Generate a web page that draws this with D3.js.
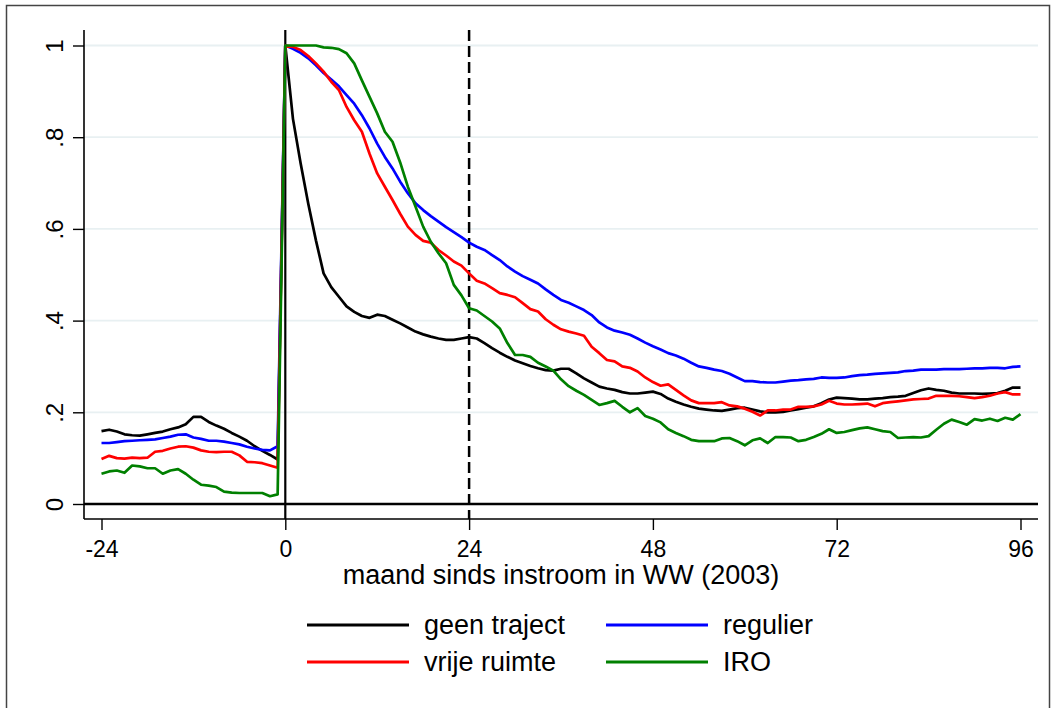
<!DOCTYPE html>
<html>
<head>
<meta charset="utf-8">
<script src="https://cdnjs.cloudflare.com/ajax/libs/d3/7.8.5/d3.min.js"></script>
<style>
  body { margin: 0; background: #fff; }
  svg text { font-family: Arial, "Liberation Sans", sans-serif; fill: #000; }
</style>
</head>
<body>
<svg id="chart" width="1056" height="708"></svg>
<script>
// Months since inflow, -24 .. 96
var months = d3.range(-24, 97);

var xTicks = [-24, 0, 24, 48, 72, 96];
var yTicks = [0, 0.2, 0.4, 0.6, 0.8, 1];
var yTickLabels = ["0", ".2", ".4", ".6", ".8", "1"];

var seriesNames = ["geen traject", "regulier", "vrije ruimte", "IRO"];

var geenTraject = [
  0.159,0.162,0.158,0.152,0.150,0.149,0.152,0.155,0.158,0.163,0.167,0.174,0.190,0.190,0.179,0.171,0.164,0.155,0.147,0.138,0.126,0.116,0.107,0.097,
  1.0,0.84,0.743,0.655,0.575,0.503,0.473,0.452,0.431,0.419,0.41,0.406,0.413,0.41,0.402,0.394,
  0.385,0.376,0.37,0.365,0.361,0.358,0.358,0.361,0.364,0.361,0.351,
  0.34,0.33,0.321,0.313,0.307,0.301,0.296,0.292,0.291,0.295,0.295,0.285,0.274,0.265,0.256,0.252,0.249,0.244,0.241,0.241,0.243,0.245,0.24,
  0.23,0.223,0.217,0.212,0.208,0.206,0.204,0.203,0.206,0.209,0.21,0.206,0.202,0.2,0.2,0.201,0.204,0.207,0.21,0.213,0.22,0.228,0.232,
  0.231,0.23,0.228,0.228,0.23,0.231,0.233,0.234,0.236,0.242,0.248,0.252,0.249,0.247,0.243,0.241,0.241,0.241,0.24,0.241,0.242,0.247,0.254,0.254
];

var regulier = [
  0.133,0.133,0.135,0.137,0.138,0.139,0.140,0.141,0.144,0.147,0.151,0.152,0.145,0.142,0.138,0.138,0.136,0.133,0.130,0.125,0.121,0.118,0.117,0.126,
  1.0,0.993,0.984,0.972,0.957,0.94,0.926,0.911,0.892,0.873,0.848,0.819,0.786,0.757,0.732,0.703,
  0.678,0.656,0.641,0.628,0.616,0.604,0.593,0.582,0.57,0.561,0.554,
  0.543,0.532,0.518,0.507,0.497,0.489,0.481,0.468,0.456,0.445,0.439,0.431,0.423,0.412,0.396,0.385,0.378,0.374,0.369,0.361,0.352,0.344,0.337,
  0.329,0.324,0.317,0.308,0.3,0.297,0.293,0.29,0.284,0.276,0.268,0.268,0.266,0.265,0.265,0.267,0.269,0.27,0.272,0.273,0.276,0.275,0.275,
  0.276,0.279,0.281,0.282,0.284,0.285,0.286,0.287,0.29,0.291,0.293,0.293,0.293,0.294,0.294,0.294,0.295,0.296,0.296,0.297,0.297,0.296,0.299,0.3
];

var vrijeRuimte = [
  0.098,0.105,0.100,0.099,0.101,0.100,0.101,0.114,0.116,0.121,0.125,0.126,0.123,0.117,0.114,0.113,0.114,0.114,0.106,0.092,0.091,0.089,0.084,0.079,
  1.0,0.997,0.99,0.977,0.961,0.943,0.921,0.903,0.866,0.837,0.812,0.764,0.721,0.692,0.663,0.633,
  0.605,0.587,0.574,0.57,0.554,0.542,0.529,0.52,0.503,0.487,0.481,
  0.471,0.46,0.456,0.451,0.438,0.425,0.42,0.403,0.391,0.381,0.376,0.372,0.367,0.343,0.329,0.314,0.311,0.3,0.297,0.289,0.276,0.266,0.258,
  0.261,0.249,0.237,0.226,0.22,0.22,0.22,0.222,0.215,0.213,0.208,0.201,0.193,0.204,0.204,0.206,0.206,0.212,0.212,0.213,0.217,0.225,0.219,
  0.217,0.217,0.218,0.219,0.213,0.22,0.222,0.224,0.226,0.228,0.229,0.23,0.236,0.236,0.236,0.235,0.233,0.231,0.233,0.236,0.241,0.244,0.239,0.239
];

var iro = [
  0.066,0.071,0.073,0.068,0.084,0.082,0.078,0.078,0.066,0.073,0.076,0.066,0.053,0.042,0.040,0.037,0.027,0.025,0.024,0.024,0.024,0.024,0.017,0.021,
  1.0,1.0,1.0,1.0,1.0,0.996,0.995,0.992,0.983,0.961,0.924,0.888,0.852,0.812,0.79,0.745,
  0.692,0.649,0.605,0.572,0.547,0.525,0.478,0.455,0.427,0.422,0.41,
  0.398,0.383,0.351,0.325,0.325,0.321,0.308,0.3,0.291,0.272,0.257,0.247,0.238,0.227,0.216,0.22,0.225,0.212,0.2,0.209,0.192,0.186,0.178,
  0.163,0.155,0.148,0.14,0.137,0.137,0.137,0.143,0.144,0.137,0.128,0.139,0.143,0.133,0.146,0.146,0.145,0.137,0.14,0.146,0.153,0.163,0.155,
  0.157,0.161,0.165,0.167,0.163,0.159,0.157,0.144,0.145,0.146,0.145,0.148,0.162,0.175,0.184,0.179,0.173,0.185,0.182,0.186,0.181,0.188,0.184,0.196
];

var svg = d3.select("#chart");

// plot region bounds
var plotLeft = 84, plotRight = 1038, plotTop = 30, plotBottom = 519;

var xscale = d3.scaleLinear().domain([-24, 96]).range([101.5, 1020.5]);
var yscale = d3.scaleLinear().domain([0, 1]).range([504, 45.5]);

// outer frame
svg.append("rect")
  .attr("x", 6.5).attr("y", 5.5)
  .attr("width", 1043).attr("height", 720)
  .style("fill", "none")
  .style("stroke", "#444")
  .style("stroke-width", 1.5);

// light gridlines
svg.append("g").selectAll("line")
  .data(yTicks.slice(1))
  .enter()
  .append("line")
  .attr("x1", plotLeft).attr("x2", plotRight)
  .attr("y1", function(d) { return yscale(d); })
  .attr("y2", function(d) { return yscale(d); })
  .style("stroke", "#e8f0f2")
  .style("stroke-width", 1.8);

// y axis
var yAxis = svg.append("g")
  .attr("transform", "translate(" + plotLeft + ",0)")
  .call(d3.axisLeft(yscale)
    .tickValues(yTicks)
    .tickSize(11)
    .tickFormat(function(d, i) { return yTickLabels[i]; }));
yAxis.select(".domain").remove();
yAxis.selectAll(".tick line").style("stroke", "#000").style("stroke-width", 1.4);
yAxis.selectAll(".tick text")
  .attr("transform", "rotate(-90)")
  .attr("x", 0).attr("y", -21).attr("dy", 0)
  .style("text-anchor", "middle")
  .style("font-size", "24px");

// x axis
var xAxis = svg.append("g")
  .attr("transform", "translate(0," + plotBottom + ")")
  .call(d3.axisBottom(xscale)
    .tickValues(xTicks)
    .tickSize(11)
    .tickFormat(function(d) { return String(d); }));
xAxis.select(".domain").remove();
xAxis.selectAll(".tick line").style("stroke", "#000").style("stroke-width", 1.4);
xAxis.selectAll(".tick text")
  .attr("y", 38).attr("dy", 0)
  .style("font-size", "23px");

// axis lines
svg.append("line")
  .attr("x1", plotLeft).attr("x2", plotLeft)
  .attr("y1", plotTop).attr("y2", plotBottom)
  .style("stroke", "#000").style("stroke-width", 1.6);
svg.append("line")
  .attr("x1", plotLeft).attr("x2", plotRight)
  .attr("y1", plotBottom).attr("y2", plotBottom)
  .style("stroke", "#000").style("stroke-width", 1.6);

// x axis title
svg.append("text")
  .attr("x", (plotLeft + plotRight) / 2)
  .attr("y", 584)
  .style("text-anchor", "middle")
  .style("font-size", "27px")
  .text("maand sinds instroom in WW (2003)");

// reference lines: y = 0, month 0 and month 24
svg.append("line")
  .attr("x1", plotLeft).attr("x2", plotRight)
  .attr("y1", yscale(0)).attr("y2", yscale(0))
  .style("stroke", "#000").style("stroke-width", 2.6);
svg.append("line")
  .attr("x1", xscale(0)).attr("x2", xscale(0))
  .attr("y1", plotTop).attr("y2", plotBottom)
  .style("stroke", "#000").style("stroke-width", 2.2);
svg.append("line")
  .attr("x1", xscale(24)).attr("x2", xscale(24))
  .attr("y1", plotTop).attr("y2", plotBottom)
  .style("stroke", "#000").style("stroke-width", 2.5)
  .style("stroke-dasharray", "11,5");

// the four series
var series = [
  { name: seriesNames[0], values: geenTraject, color: "#000000" },
  { name: seriesNames[1], values: regulier, color: "#0000ff" },
  { name: seriesNames[2], values: vrijeRuimte, color: "#ff0000" },
  { name: seriesNames[3], values: iro, color: "#008000" }
];

var line = d3.line()
  .x(function(d, i) { return xscale(months[i]); })
  .y(function(d) { return yscale(d); });

svg.append("g").selectAll("path")
  .data(series)
  .enter()
  .append("path")
  .attr("d", function(s) { return line(s.values); })
  .style("fill", "none")
  .style("stroke", function(s) { return s.color; })
  .style("stroke-width", 2.7)
  .style("stroke-linejoin", "round");

// legend, two columns
var legendPos = [[307, 625], [606, 625], [307, 662], [606, 662]];
var legend = svg.append("g").selectAll("g")
  .data(series)
  .enter()
  .append("g")
  .attr("transform", function(s, i) { return "translate(" + legendPos[i][0] + "," + legendPos[i][1] + ")"; });

legend.append("line")
  .attr("x1", 0).attr("x2", 102)
  .attr("y1", 0).attr("y2", 0)
  .style("stroke", function(s) { return s.color; })
  .style("stroke-width", 2.8);

legend.append("text")
  .attr("x", 117).attr("y", 9)
  .style("font-size", "27px")
  .text(function(s) { return s.name; });
</script>
</body>
</html>
